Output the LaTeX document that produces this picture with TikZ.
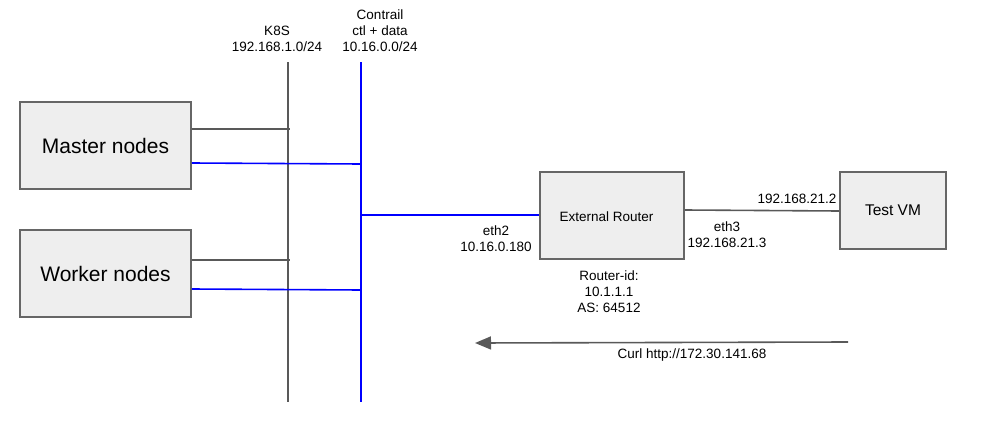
\documentclass[tikz,border=0pt]{standalone}
\usepackage{fontspec}
\setmainfont{Liberation Sans}
\usetikzlibrary{arrows.meta}
\definecolor{boxgray}{HTML}{EEEEEE}
\definecolor{edgegray}{HTML}{666666}
\definecolor{linegray}{HTML}{595959}
\definecolor{netblue}{HTML}{0000FF}
\begin{document}
\begin{tikzpicture}[x=1pt,y=-1pt,
  hostbox/.style={draw=edgegray,fill=boxgray,line width=1.6pt,inner sep=0pt},
  graylink/.style={draw=linegray,line width=1.6pt},
  bluelink/.style={draw=netblue,line width=1.6pt},
  lbl/.style={font=\fontsize{13.5}{16}\selectfont,align=center,inner sep=0pt}]
\useasboundingbox (0,0) rectangle (981,420);
% hosts
\node[hostbox,minimum width=171pt,minimum height=87pt,font=\fontsize{21}{24}\selectfont] (master) at (105.5,145.5) {Master nodes};
\node[hostbox,minimum width=171pt,minimum height=87pt,font=\fontsize{21}{24}\selectfont] (worker) at (105.5,273.5) {Worker nodes};
\node[hostbox,minimum width=144pt,minimum height=87pt] (router) at (612,215.5) {};
\node[lbl] (routertxt) at (606.5,216.5) {External Router};
\node[hostbox,minimum width=106pt,minimum height=77pt,font=\fontsize{15.5}{18}\selectfont] (vm) at (893,210.5) {Test VM};
% buses
\coordinate (k8stop) at (288,62);
\coordinate (k8sbot) at (288,402);
\coordinate (cttop) at (361,62);
\coordinate (ctbot) at (361,402);
\draw[graylink] (k8stop) -- (k8sbot);
\draw[bluelink] (cttop) -- (ctbot);
\node[lbl,anchor=south] (k8slbl) at (277,52) {K8S\\192.168.1.0/24};
\node[lbl,anchor=south] (ctlbl) at (380,52) {Contrail\\ctl + data\\10.16.0.0/24};
% connectors
\coordinate (mk) at (290,129);
\coordinate (mc) at (361,164);
\coordinate (wk) at (290,260);
\coordinate (wc) at (361,290);
\coordinate (rc) at (361,215);
\draw[graylink] (master.east |- mk) -- (mk);
\draw[bluelink] (master.east |- 0,163) -- (mc);
\draw[graylink] (worker.east |- wk) -- (wk);
\draw[bluelink] (worker.east |- 0,289) -- (wc);
\draw[bluelink] (rc) -- (router.west |- rc);
\draw[graylink] (router.east |- 0,210) -- (vm.west |- 0,211);
% labels
\node[lbl] (eth2) at (496,239) {eth2\\10.16.0.180};
\node[lbl] (eth3) at (727,235) {eth3\\192.168.21.3};
\node[lbl] (vmip) at (797,199) {192.168.21.2};
\node[lbl] (rid) at (609,292) {Router-id:\\10.1.1.1\\AS: 64512};
% curl arrow
\coordinate (cs) at (848,342);
\coordinate (ce) at (475,343);
\draw[graylink,-{Triangle[length=16pt,width=13pt]}] (cs) -- (ce);
\node[lbl] (curl) at (692,355) {Curl http://172.30.141.68};
\end{tikzpicture}
\end{document}
